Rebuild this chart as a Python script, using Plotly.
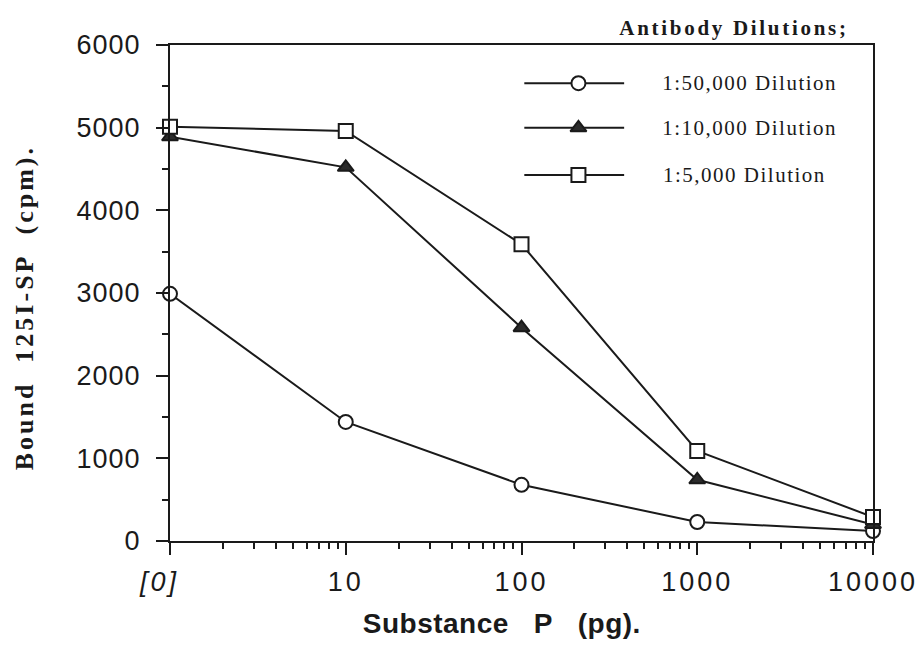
import plotly.graph_objects as go

# Substance P dose (pg); the first point is the zero-dose control, drawn at 1 on the log axis
dose = [1, 10, 100, 1000, 10000]
dose_labels = ["<i>[0]</i>\u00a0\u00a0", "10", "100", "1000", "10000"]

# Bound 125I-SP (cpm) for each antibody dilution
bound_50000 = [2990, 1440, 680, 230, 120]
bound_10000 = [4890, 4520, 2580, 740, 200]
bound_5000 = [5010, 4960, 3590, 1090, 290]

series_names = ["1:50,000 Dilution", "1:10,000 Dilution", "1:5,000 Dilution"]
y_ticks = [0, 1000, 2000, 3000, 4000, 5000, 6000]

INK = "#1a1a1a"
SANS = "Liberation Sans, Arial, sans-serif"
SERIF = "Liberation Serif, Times New Roman, serif"

styles = [
    dict(symbol="circle", color="white", size=14),
    dict(symbol="triangle-up", color="#2b2b2b", size=14),
    dict(symbol="square", color="white", size=14),
]

fig = go.Figure()

for name, ys, st in zip(series_names, [bound_50000, bound_10000, bound_5000], styles):
    fig.add_trace(go.Scatter(
        x=dose, y=ys, mode="lines+markers", name=name, showlegend=False,
        line=dict(color=INK, width=2),
        marker=dict(symbol=st["symbol"], size=st["size"], color=st["color"],
                    line=dict(color=INK, width=2)),
        cliponaxis=False,
    ))

# Hand-drawn key: long line with the marker in its middle, on an overlay axis in [0, 1]
key_rows = [0.923, 0.833, 0.738]
key_x0, key_x1, key_mid = 0.504, 0.646, 0.581
for name, yk, st in zip(series_names, key_rows, styles):
    fig.add_trace(go.Scatter(
        x=[key_x0, key_x1], y=[yk, yk], mode="lines", xaxis="x2", yaxis="y2",
        showlegend=False, hoverinfo="skip", line=dict(color=INK, width=2),
    ))
    fig.add_trace(go.Scatter(
        x=[key_mid], y=[yk], mode="markers", xaxis="x2", yaxis="y2",
        showlegend=False, hoverinfo="skip",
        marker=dict(symbol=st["symbol"], size=st["size"], color=st["color"],
                    line=dict(color=INK, width=2)),
    ))

minor_x = [m * 10 ** k for k in range(4) for m in range(2, 10)]

fig.update_layout(
    width=923, height=647,
    margin=dict(l=170, r=47, t=45, b=106),
    paper_bgcolor="white", plot_bgcolor="white",
    showlegend=False,
    xaxis=dict(
        type="log", range=[0, 4],
        tickmode="array", tickvals=dose, ticktext=dose_labels,
        ticks="outside", ticklen=12, tickwidth=2, tickcolor=INK,
        minor=dict(ticks="outside", ticklen=6, tickwidth=1.5, tickcolor=INK,
                   tickmode="array", tickvals=minor_x),
        showgrid=False, zeroline=False,
        showline=True, linewidth=2, linecolor=INK, mirror=True,
        tickfont=dict(family=SANS, size=27, color=INK),
        ticklabelstandoff=4,
    ),
    yaxis=dict(
        range=[0, 6000],
        tickmode="array", tickvals=y_ticks,
        ticks="outside", ticklen=12, tickwidth=2, tickcolor=INK,
        minor=dict(ticks="outside", ticklen=6, tickwidth=1.5, tickcolor=INK, dtick=500),
        showgrid=False, zeroline=False,
        showline=True, linewidth=2, linecolor=INK, mirror=True,
        tickfont=dict(family=SANS, size=27, color=INK),
        ticklabelstandoff=10,
    ),
    xaxis2=dict(overlaying="x", range=[0, 1], visible=False),
    yaxis2=dict(overlaying="y", range=[0, 1], visible=False),
)

annotations = [
    dict(text="<b>Antibody Dilutions;</b>", x=0.673, y=1.034,
         font=dict(family=SERIF, size=21, color=INK), xanchor="left"),
    dict(text="<b>Bound\u00a0\u00a0125I-SP\u00a0\u00a0(cpm).</b>", x=-0.207, y=0.470,
         textangle=-90, font=dict(family=SERIF, size=26, color=INK), xanchor="center"),
    dict(text="<b>Substance\u00a0\u00a0\u00a0P\u00a0\u00a0\u00a0(pg).</b>", x=0.4717, y=-0.167,
         font=dict(family=SANS, size=28, color=INK), xanchor="center"),
]
for name, yk in zip(series_names, key_rows):
    annotations.append(dict(text=name, x=0.715, y=yk, xanchor="left",
                            font=dict(family=SERIF, size=21, color=INK)))

for a in annotations:
    a.update(xref="paper", yref="paper", showarrow=False, yanchor="middle")
fig.update_layout(annotations=annotations)

# Widen the lettering of the labels a little
spacing_js = """
var gd = document.getElementById('{plot_id}');
function spread() {
  gd.querySelectorAll('.xtick text').forEach(function (t) { t.style.letterSpacing = '3px'; });
  gd.querySelectorAll('.ytick text').forEach(function (t) { t.style.letterSpacing = '1px'; });
  gd.querySelectorAll('.annotation-text').forEach(function (t) {
    var s = t.textContent;
    if (s.indexOf('Antibody') === 0) { t.style.letterSpacing = '2.7px'; }
    else if (s.indexOf('Dilution') > 0) { t.style.letterSpacing = '1.5px'; }
    else if (s.indexOf('Substance') === 0) { t.style.letterSpacing = '0.5px'; }
    else { t.style.letterSpacing = '3px'; }
  });
}
spread();
if (gd.on) { gd.on('plotly_afterplot', spread); }
"""

fig.write_html("out.html", post_script=spacing_js)
